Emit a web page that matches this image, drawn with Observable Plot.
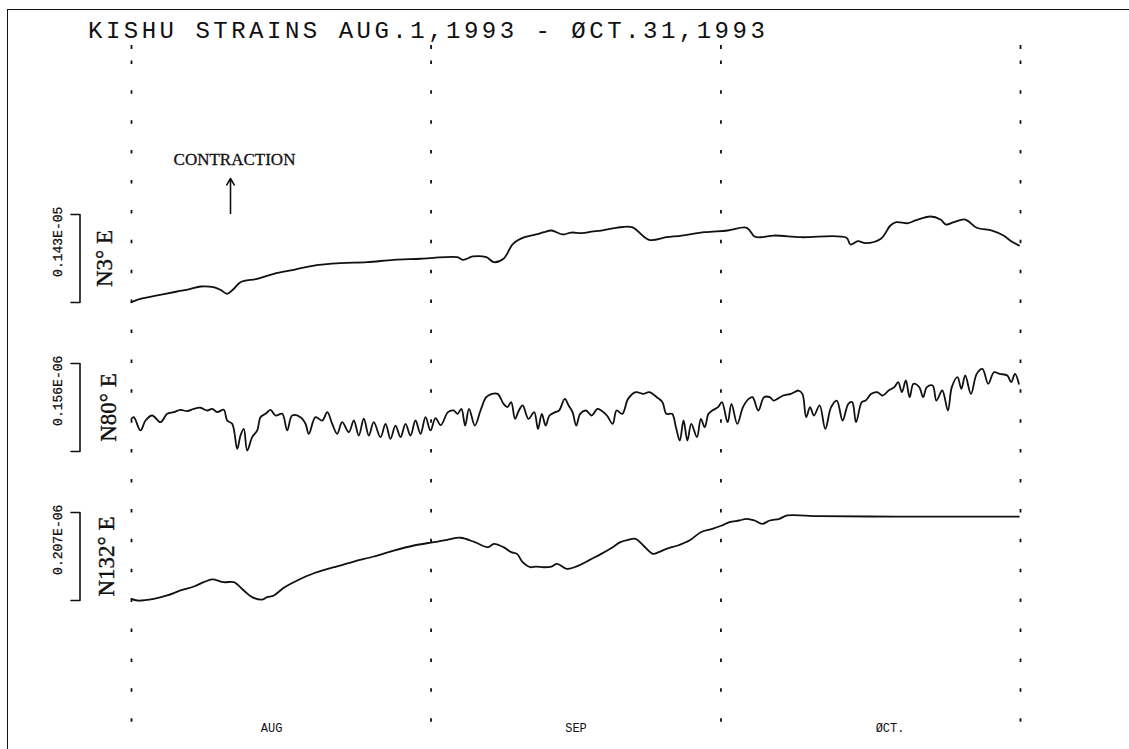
<!DOCTYPE html>
<html><head><meta charset="utf-8">
<script src="https://cdn.jsdelivr.net/npm/d3@7"></script>
<script src="https://cdn.jsdelivr.net/npm/@observablehq/plot@0.6"></script>
<style>
html,body{margin:0;padding:0;background:#fff;}
#wrap{position:relative;width:1129px;height:749px;overflow:hidden;background:#fff;}
#frame{position:absolute;left:7px;top:9px;width:1130px;height:745px;border-left:1.5px solid #111;border-top:1.5px solid #111;}
#title{position:absolute;left:88px;top:20px;font:24px "Liberation Mono",monospace;letter-spacing:3.5px;line-height:24px;white-space:pre;color:#111;}
#chart{position:absolute;left:0;top:0;}
</style></head><body>
<div id="wrap"><div id="frame"></div><div id="chart"></div><div id="title">KISHU STRAINS AUG.1,1993 - ØCT.31,1993</div></div>
<script>
// ---- data (x: days since Aug 1, 1993; value: strain change in % of each trace's scale bar) ----
const monthBounds = [0, 31, 61, 92];              // Aug 1, Sep 1, Oct 1, Nov 1
const monthLabels = ["AUG", "SEP", "ØCT."];
const monthLabelDays = [14.5, 46, 78.5];
const traceNames = ["N3° E", "N80° E", "N132° E"];
const traceScales = ["0.143E-05", "0.156E-06", "0.207E-06"];

const n3 = [[0,0.3],[0.59,3.1],[2.66,8.0],[4.73,12.5],[6.11,15.6],[7.14,18.2],[8.49,17.4],[9.21,14.4],[9.90,9.9],[10.59,15.6],[11.28,23.1],[13.01,26.9],[14.73,32.6],[16.80,37.2],[18.87,42.0],[21.63,44.7],[24.39,45.8],[27.14,48.5],[29.91,49.7],[31.25,50.8],[33.71,51.5],[34.34,48.5],[35.33,52.3],[36.72,51.5],[37.51,45.8],[38.50,49.7],[39.49,66.7],[40.68,74.2],[41.87,77.3],[42.67,79.9],[43.46,81.8],[44.64,77.3],[45.5,79.5],[46.63,78.8],[47.6,80.5],[48.61,81.8],[50.19,84.9],[51.79,85.6],[53.56,71.3],[55.36,74.2],[56.94,76.1],[59.32,79.9],[61.70,81.8],[63.68,84.9],[64.47,75.0],[65.27,74.2],[66.46,76.1],[69.23,74.2],[73.99,73.5],[74.39,65.9],[75.18,69.7],[75.97,67.4],[77.55,72.4],[78.54,87.5],[79.15,91.3],[80.34,90.1],[81.12,93.2],[82.69,97.7],[83.72,94.3],[84.30,88.6],[85.09,91.3],[86.28,94.3],[87.47,84.9],[89.06,81.8],[90.24,76.1],[91.04,69.7],[91.84,64.8]];

const n80 = [[0,37.2],[0.24,39.0],[0.93,23.9],[1.45,35.2],[2.14,40.9],[3.00,33.3],[3.69,42.8],[4.38,44.7],[5.07,47.4],[5.76,45.8],[6.45,48.5],[7.14,49.7],[7.83,46.6],[8.35,48.5],[8.87,44.7],[9.55,47.4],[9.90,35.2],[10.42,31.5],[10.94,3.1],[11.28,18.2],[11.62,25.8],[11.97,1.1],[12.49,16.3],[13.01,23.9],[13.35,39.0],[13.87,42.8],[14.38,47.4],[14.90,40.9],[15.60,42.8],[16.11,23.9],[16.63,40.9],[17.49,39.0],[18.01,31.5],[18.35,20.1],[19.04,39.0],[19.74,35.2],[20.26,44.7],[20.77,31.5],[21.29,20.1],[21.80,33.3],[22.49,21.9],[23.01,35.2],[23.52,18.2],[24.04,37.2],[24.56,18.2],[25.07,33.3],[25.77,16.3],[26.29,31.5],[26.80,14.4],[27.32,29.5],[27.84,16.3],[28.36,31.5],[28.87,18.2],[29.39,35.2],[29.91,20.1],[30.43,39.0],[30.94,23.9],[31.46,38.0],[32.0,30.0],[32.75,44.7],[33.34,46.6],[33.74,42.8],[34.14,48.5],[34.53,29.5],[34.93,48.5],[35.53,29.5],[36.12,46.6],[36.71,61.7],[37.31,65.5],[37.90,65.5],[38.50,54.2],[38.90,50.4],[39.29,56.1],[39.69,37.1],[40.09,46.6],[40.48,52.3],[41.08,37.1],[41.67,44.7],[42.07,25.7],[42.46,42.8],[42.86,29.5],[43.26,40.9],[43.85,44.7],[44.25,46.6],[44.84,59.8],[45.24,52.3],[45.64,44.7],[46.03,29.5],[46.43,42.8],[47.02,46.6],[47.62,40.9],[48.21,48.5],[48.61,46.6],[49.20,40.9],[49.80,31.4],[50.20,46.6],[50.79,42.8],[51.39,59.8],[52.18,67.4],[52.97,65.5],[53.57,67.4],[54.36,61.7],[54.95,56.1],[55.35,42.8],[55.94,42.8],[56.34,27.6],[56.74,12.5],[57.13,35.2],[57.53,12.5],[57.93,31.4],[58.52,16.3],[58.92,37.1],[59.32,27.6],[59.71,42.8],[60.11,46.6],[60.70,50.4],[61.10,56.1],[61.69,33.3],[62.09,54.2],[62.69,31.4],[63.28,50.4],[63.87,59.8],[64.27,61.7],[64.87,46.6],[65.46,61.7],[66.06,61.7],[66.45,57.9],[66.85,59.8],[67.44,63.6],[68.24,65.5],[69.03,69.3],[69.43,65.5],[69.82,39.0],[70.22,50.4],[70.62,40.9],[71.21,52.3],[71.80,25.7],[72.40,50.4],[72.99,57.9],[73.59,35.2],[74.18,54.2],[74.58,56.1],[74.98,33.3],[75.57,56.1],[75.97,57.9],[76.56,65.5],[77.16,67.4],[77.75,63.6],[78.35,69.3],[78.94,73.1],[79.34,78.8],[79.73,67.4],[80.13,80.7],[80.53,61.7],[80.92,76.9],[81.52,73.1],[81.92,61.7],[82.31,73.1],[82.91,75.0],[83.30,57.9],[83.90,69.3],[84.49,46.6],[84.89,73.1],[85.48,84.5],[85.88,71.2],[86.28,86.4],[86.87,65.5],[87.47,88.2],[88.06,93.9],[88.66,76.9],[89.25,90.1],[89.85,88.2],[90.64,86.4],[91.03,78.8],[91.43,88.2],[91.83,76.9]];

const n132 = [[0,1.9],[0.59,0],[2.31,1.9],[3.69,5.7],[5.07,11.4],[6.45,15.9],[7.48,20.8],[8.35,23.9],[9.55,20.8],[10.59,20.8],[11.62,11.4],[12.49,3.8],[13.53,1.1],[14.04,3.8],[14.73,5.7],[15.76,14.4],[17.15,22.7],[18.87,31.0],[20.94,37.8],[23.01,44.3],[25.07,50.0],[27.14,56.8],[29.21,62.5],[31.28,66.3],[32.67,69.0],[34.05,71.3],[35.53,66.3],[36.91,60.6],[37.51,64.4],[38.50,60.6],[39.29,54.9],[39.89,53.0],[40.48,43.5],[41.27,37.8],[41.87,38.6],[42.66,37.8],[43.46,38.6],[44.05,41.6],[45.04,35.9],[45.83,37.8],[46.63,41.6],[47.42,46.2],[48.61,53.0],[49.80,60.6],[50.59,66.3],[51.39,68.9],[52.18,70.0],[52.97,62.5],[53.96,53.0],[54.56,54.9],[55.35,58.7],[56.54,62.5],[57.73,68.1],[58.92,77.6],[60.11,81.4],[61.10,85.2],[61.89,89.0],[62.88,90.9],[63.68,92.8],[64.47,90.9],[65.26,87.1],[66.06,90.9],[67.05,92.8],[67.84,96.6],[71.21,95.8],[79.14,95.4],[87.07,95.4],[91.83,95.4]];

// ---- layout ----
const W = 1129, H = 749;
const PX_PER_UNIT = 0.88;                 // 100 units = one 88 px scale bar
const xs = d3.scaleLinear([0, 92], [131, 1020]);
const dayAt = px => xs.invert(px);
const unitAt = py => (H - py) / PX_PER_UNIT;

const traces = [
  {name: traceNames[0], scale: traceScales[0], data: n3,   base: unitAt(302), nameX: 104},
  {name: traceNames[1], scale: traceScales[1], data: n80,  base: unitAt(451), nameX: 108},
  {name: traceNames[2], scale: traceScales[2], data: n132, base: unitAt(600), nameX: 106}
];

const lineData = traces.flatMap(t => t.data.map(([d, v]) => ({series: t.name, day: d, y: t.base + v})));
const bracketData = traces.flatMap(t => [
  {s: t.name, x: dayAt(70.5), y: t.base},
  {s: t.name, x: dayAt(79.5), y: t.base},
  {s: t.name, x: dayAt(79.5), y: t.base + 100},
  {s: t.name, x: dayAt(70.5), y: t.base + 100}
]);

const chart = Plot.plot({
  width: W, height: H, margin: 0,
  x: {domain: [0, 92], range: [131, 1020], axis: null},
  y: {domain: [0, H / PX_PER_UNIT], range: [H, 0], axis: null},
  style: {background: "transparent", color: "#111"},
  marks: [
    Plot.ruleX(monthBounds, {x: d => d, y1: unitAt(60.4), y2: unitAt(724), stroke: "#111", strokeWidth: 1.8, strokeDasharray: "3.5,26.4"}),
    Plot.ruleX(monthBounds, {x: d => d, y1: unitAt(45), y2: unitAt(49), stroke: "#111", strokeWidth: 1.8}),
    Plot.line(lineData, {x: "day", y: "y", z: "series", stroke: "#111", strokeWidth: 1.8, strokeLinejoin: "round", curve: "catmull-rom"}),
    Plot.line(bracketData, {x: "x", y: "y", z: "s", stroke: "#111", strokeWidth: 1.6}),
    Plot.text(traces, {x: () => dayAt(57), y: t => t.base + 50 + 19, text: "scale", rotate: -90, fontSize: 13, fontFamily: "Liberation Mono", fill: "#111", stroke: "#111", strokeWidth: 0.3, ariaLabel: "scaletext"}),
    Plot.text(traces, {x: t => dayAt(t.nameX), y: t => t.base + 50, text: "name", rotate: -90, fontSize: 23, fontFamily: "Liberation Serif", fill: "#111", stroke: "#111", strokeWidth: 0.4}),
    Plot.text(monthLabels, {x: (d, i) => monthLabelDays[i], y: unitAt(728), text: d => d, fontSize: 12, fontFamily: "Liberation Mono", fill: "#111", ariaLabel: "monthtext"}),
    Plot.text(["CONTRACTION"], {x: dayAt(234), y: unitAt(159), text: d => d, fontSize: 17, fontFamily: "Liberation Serif", fill: "#111", stroke: "#111", strokeWidth: 0.3}),
    Plot.arrow([0], {x1: dayAt(230), y1: unitAt(213), x2: dayAt(230), y2: unitAt(178), stroke: "#111", strokeWidth: 1.6, headLength: 7})
  ]
});
d3.select(chart).selectAll('g[aria-label="scaletext"] text').style("letter-spacing", "2.4px");
d3.select(chart).selectAll('g[aria-label="monthtext"] text').style("letter-spacing", "0.5px");
document.getElementById("chart").appendChild(chart);
</script>
</body></html>
